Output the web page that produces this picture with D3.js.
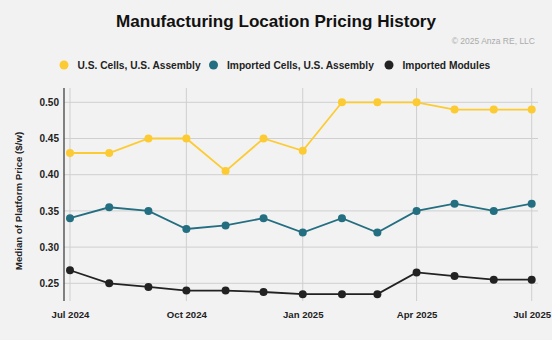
<!DOCTYPE html>
<html>
<head>
<script src="https://cdnjs.cloudflare.com/ajax/libs/d3/7.8.5/d3.min.js"></script>
<style>
  body { margin: 0; background: #f2f2f2; }
  svg { display: block; font-family: "Liberation Sans", Arial, sans-serif; }
</style>
</head>
<body>
<script>
    var width = 552, height = 340;

    // data (monthly, Jul 2024 .. Jul 2025)
    var months = ["2024-07", "2024-08", "2024-09", "2024-10", "2024-11", "2024-12",
                  "2025-01", "2025-02", "2025-03", "2025-04", "2025-05", "2025-06", "2025-07"];
    var usCells = [0.43, 0.43, 0.45, 0.45, 0.405, 0.45, 0.433, 0.50, 0.50, 0.50, 0.49, 0.49, 0.49];
    var importedCells = [0.34, 0.355, 0.35, 0.325, 0.33, 0.34, 0.32, 0.34, 0.32, 0.35, 0.36, 0.35, 0.36];
    var importedModules = [0.268, 0.25, 0.245, 0.24, 0.24, 0.238, 0.235, 0.235, 0.235, 0.265, 0.26, 0.255, 0.255];
    var seriesNames = ["U.S. Cells, U.S. Assembly", "Imported Cells, U.S. Assembly", "Imported Modules"];
    var seriesColors = ["#fccb33", "#236e80", "#222222"];
    var yTicks = [0.25, 0.30, 0.35, 0.40, 0.45, 0.50];
    var xTicks = ["2024-07", "2024-10", "2025-01", "2025-04", "2025-07"];

    var parse = d3.timeParse("%Y-%m");
    var dates = months.map(parse);
    var series = [usCells, importedCells, importedModules];

    var svg = d3.select("body").append("svg")
        .attr("width", width)
        .attr("height", height);

    svg.append("rect").attr("width", width).attr("height", height).attr("fill", "#f2f2f2");

    var x = d3.scaleTime()
        .domain([parse("2024-07"), parse("2025-07")])
        .range([70, 531.7]);
    var y = d3.scaleLinear()
        .domain([0.25, 0.50])
        .range([283.3, 102.3]);

    var plotLeft = 64, plotRight = 538, plotTop = 88, plotBottom = 301;

    // title + credit
    svg.append("text")
        .attr("x", 276).attr("y", 27)
        .attr("text-anchor", "middle")
        .attr("font-size", "17.1px").attr("font-weight", "bold")
        .attr("fill", "#111")
        .text("Manufacturing Location Pricing History");
    svg.append("text")
        .attr("x", 535).attr("y", 44)
        .attr("text-anchor", "end")
        .attr("font-size", "8.5px")
        .attr("fill", "#aaa")
        .text("\u00a9 2025 Anza RE, LLC");

    // legend
    var legendX = [64, 213.5, 389];
    var legend = svg.append("g");
    seriesNames.forEach(function(name, i) {
        legend.append("circle")
            .attr("cx", legendX[i]).attr("cy", 65).attr("r", 4.5)
            .attr("fill", seriesColors[i]);
        legend.append("text")
            .attr("x", legendX[i] + 13.5).attr("y", 68.7)
            .attr("font-size", "10.2px").attr("font-weight", "bold")
            .attr("fill", "#222")
            .text(name);
    });

    // grid
    var grid = svg.append("g").attr("stroke", "#cfcfcf").attr("stroke-width", 1);
    yTicks.forEach(function(t) {
        grid.append("line")
            .attr("x1", plotLeft).attr("x2", plotRight)
            .attr("y1", y(t)).attr("y2", y(t));
    });
    xTicks.forEach(function(t) {
        grid.append("line")
            .attr("x1", x(parse(t))).attr("x2", x(parse(t)))
            .attr("y1", plotTop).attr("y2", plotBottom);
    });

    // y axis
    var yAxis = svg.append("g")
        .attr("transform", "translate(" + plotLeft + ",0)")
        .call(d3.axisLeft(y).tickValues(yTicks).tickFormat(d3.format(".2f")).tickSize(0).tickPadding(5));
    yAxis.select(".domain").remove();
    yAxis.append("line")
        .attr("y1", plotTop).attr("y2", plotBottom)
        .attr("stroke", "#333").attr("stroke-width", 1.2);
    yAxis.selectAll("text")
        .attr("font-family", "Liberation Sans, Arial, sans-serif")
        .attr("font-size", "10px").attr("font-weight", "bold").attr("fill", "#222");

    // x axis
    var xAxis = svg.append("g")
        .attr("transform", "translate(0," + plotBottom + ")")
        .call(d3.axisBottom(x).tickValues(xTicks.map(parse)).tickFormat(d3.timeFormat("%b %Y")).tickSize(0).tickPadding(10));
    xAxis.select(".domain").remove();
    xAxis.selectAll("text")
        .attr("font-family", "Liberation Sans, Arial, sans-serif")
        .attr("font-size", "9.6px").attr("font-weight", "bold").attr("fill", "#222");

    svg.append("text")
        .attr("transform", "translate(22,201) rotate(-90)")
        .attr("text-anchor", "middle")
        .attr("font-size", "9.7px").attr("font-weight", "bold")
        .attr("fill", "#222")
        .text("Median of Platform Price ($/w)");

    // lines + points
    var line = d3.line()
        .x(function(d, i) { return x(dates[i]); })
        .y(function(d) { return y(d); });

    series.forEach(function(values, s) {
        svg.append("path")
            .datum(values)
            .attr("d", line)
            .attr("fill", "none")
            .attr("stroke", seriesColors[s])
            .attr("stroke-width", 1.8);
        svg.append("g").selectAll("circle")
            .data(values)
            .join("circle")
            .attr("cx", function(d, i) { return x(dates[i]); })
            .attr("cy", function(d) { return y(d); })
            .attr("r", 4)
            .attr("fill", seriesColors[s]);
    });
</script>
</body>
</html>
